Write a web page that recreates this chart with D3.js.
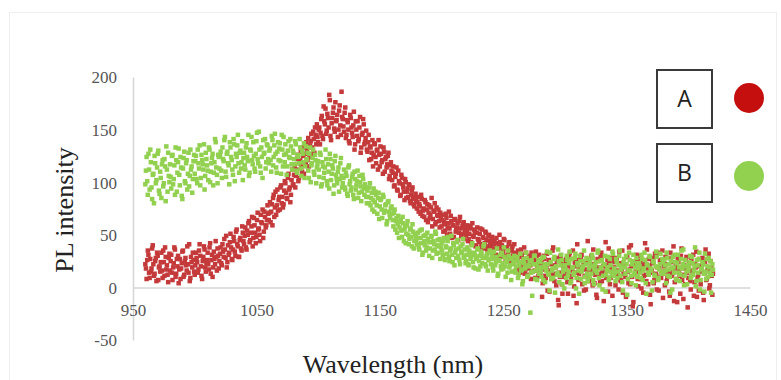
<!DOCTYPE html>
<html>
<head>
<meta charset="utf-8">
<script src="https://cdn.jsdelivr.net/npm/d3@7"></script>
<style>
html,body{margin:0;padding:0;background:#fff;}
svg{display:block;}
</style>
</head>
<body>
<svg id="chart" width="781" height="380"></svg>
<script>
// ---- data ----
// whole-nm readings
const wavelengths = [
960,961,962,963,964,965,966,967,968,969,970,971,972,973,974,975,976,977,978,979,
980,981,982,983,984,985,986,987,988,989,990,991,992,993,994,995,996,997,998,999,
1000,1001,1002,1003,1004,1005,1006,1007,1008,1009,1010,1011,1012,1013,1014,1015,1016,1017,1018,1019,
1020,1021,1022,1023,1024,1025,1026,1027,1028,1029,1030,1031,1032,1033,1034,1035,1036,1037,1038,1039,
1040,1041,1042,1043,1044,1045,1046,1047,1048,1049,1050,1051,1052,1053,1054,1055,1056,1057,1058,1059,
1060,1061,1062,1063,1064,1065,1066,1067,1068,1069,1070,1071,1072,1073,1074,1075,1076,1077,1078,1079,
1080,1081,1082,1083,1084,1085,1086,1087,1088,1089,1090,1091,1092,1093,1094,1095,1096,1097,1098,1099,
1100,1101,1102,1103,1104,1105,1106,1107,1108,1109,1110,1111,1112,1113,1114,1115,1116,1117,1118,1119,
1120,1121,1122,1123,1124,1125,1126,1127,1128,1129,1130,1131,1132,1133,1134,1135,1136,1137,1138,1139,
1140,1141,1142,1143,1144,1145,1146,1147,1148,1149,1150,1151,1152,1153,1154,1155,1156,1157,1158,1159,
1160,1161,1162,1163,1164,1165,1166,1167,1168,1169,1170,1171,1172,1173,1174,1175,1176,1177,1178,1179,
1180,1181,1182,1183,1184,1185,1186,1187,1188,1189,1190,1191,1192,1193,1194,1195,1196,1197,1198,1199,
1200,1201,1202,1203,1204,1205,1206,1207,1208,1209,1210,1211,1212,1213,1214,1215,1216,1217,1218,1219,
1220,1221,1222,1223,1224,1225,1226,1227,1228,1229,1230,1231,1232,1233,1234,1235,1236,1237,1238,1239,
1240,1241,1242,1243,1244,1245,1246,1247,1248,1249,1250,1251,1252,1253,1254,1255,1256,1257,1258,1259,
1260,1261,1262,1263,1264,1265,1266,1267,1268,1269,1270,1271,1272,1273,1274,1275,1276,1277,1278,1279,
1280,1281,1282,1283,1284,1285,1286,1287,1288,1289,1290,1291,1292,1293,1294,1295,1296,1297,1298,1299,
1300,1301,1302,1303,1304,1305,1306,1307,1308,1309,1310,1311,1312,1313,1314,1315,1316,1317,1318,1319,
1320,1321,1322,1323,1324,1325,1326,1327,1328,1329,1330,1331,1332,1333,1334,1335,1336,1337,1338,1339,
1340,1341,1342,1343,1344,1345,1346,1347,1348,1349,1350,1351,1352,1353,1354,1355,1356,1357,1358,1359,
1360,1361,1362,1363,1364,1365,1366,1367,1368,1369,1370,1371,1372,1373,1374,1375,1376,1377,1378,1379,
1380,1381,1382,1383,1384,1385,1386,1387,1388,1389,1390,1391,1392,1393,1394,1395,1396,1397,1398,1399,
1400,1401,1402,1403,1404,1405,1406,1407,1408,1409,1410,1411,1412,1413,1414,1415,1416,1417,1418,1419,
1420];

const seriesA = [
22,8,35,14,27,18,40,11,25,6,30,19,15,33,9,24,38,17,12,28,
16,31,7,23,36,13,20,4,27,18,34,10,25,21,39,14,6,29,19,26,
12,33,24,17,41,20,8,29,36,15,26,22,38,13,31,19,27,44,16,30,
25,38,21,34,46,28,19,40,33,51,27,36,44,30,55,39,29,47,35,52,
41,57,36,50,63,45,58,39,66,52,48,71,56,44,62,74,53,67,59,78,
64,81,72,59,88,76,69,93,83,74,97,86,79,101,90,84,108,95,88,112,
98,115,106,122,101,118,129,110,125,136,117,131,142,124,139,133,148,128,145,155,
138,152,147,163,141,158,170,149,161,183,144,156,166,151,176,159,143,168,154,186,
160,148,171,145,157,139,164,152,143,167,136,150,158,141,162,133,147,155,138,149,
129,145,134,122,140,126,136,118,131,140,115,127,121,133,110,124,117,128,106,119,
102,115,97,108,93,111,99,88,104,95,83,100,91,86,97,80,92,84,77,89,
75,86,79,70,84,73,67,81,74,62,78,69,85,65,72,60,76,68,63,71,
58,69,62,54,66,57,72,51,63,59,48,65,55,61,52,67,49,58,62,54,
50,59,46,56,43,61,48,53,40,57,45,51,38,55,47,42,52,36,49,44,
39,48,35,44,31,42,37,50,29,40,34,45,27,38,33,43,25,36,30,41,
28,19,35,24,14,31,22,38,17,26,12,29,21,33,15,25,9,27,19,31,
14,23,4,30,11,19,-3,26,16,8,35,13,21,2,28,-17,10,24,-6,18,
12,27,5,20,33,9,16,-8,24,14,41,7,19,29,3,22,11,-2,17,26,
8,21,15,36,4,18,-10,25,13,30,6,20,11,43,16,-4,23,9,28,14,
19,2,26,12,34,7,17,-5,22,10,29,15,38,3,20,-18,24,13,31,8,
16,25,-1,21,11,42,6,18,27,-7,14,23,4,32,12,19,-3,26,9,35,
15,2,22,10,28,-8,17,13,39,5,20,-14,24,11,30,7,-11,18,26,14,
9,23,-2,16,31,5,19,-9,12,27,3,21,-5,14,36,8,17,-1,25,11,
13];

const seriesB = [
98,124,88,112,131,95,107,80,118,102,127,92,110,85,121,99,115,134,91,106,
117,94,126,103,88,121,109,132,97,114,84,123,101,118,93,128,106,112,90,120,
108,125,99,118,135,104,121,112,93,128,116,102,131,110,123,97,119,138,107,126,
113,129,104,122,140,110,127,118,98,133,121,107,136,115,124,145,109,130,119,102,
128,112,137,120,106,131,143,117,125,110,139,122,148,115,133,104,127,141,119,135,
118,132,110,140,124,146,114,129,121,137,108,131,143,119,127,115,139,123,134,112,
128,117,136,109,124,141,113,130,119,104,134,122,111,127,100,118,131,107,121,114,
120,105,126,98,115,109,131,101,117,94,122,108,113,97,125,103,110,91,118,106,
99,112,93,106,87,116,101,95,108,84,103,97,111,90,100,82,107,94,98,86,
92,80,99,85,74,94,81,88,70,90,77,84,66,86,73,79,63,82,69,75,
70,58,74,63,52,68,57,64,48,61,55,42,59,50,46,56,39,53,44,49,
41,52,36,47,55,33,44,50,38,46,30,43,49,35,41,53,32,45,39,27,
42,31,47,26,38,44,29,35,49,24,40,33,28,45,37,22,34,41,30,36,
25,38,21,33,29,42,19,31,27,36,17,30,34,23,39,28,20,32,26,35,
22,31,16,28,24,37,13,26,20,33,18,29,10,24,35,19,27,15,22,30,
14,25,9,21,32,17,6,23,19,28,11,20,-24,26,15,30,8,22,18,13,
24,10,19,29,5,16,22,12,33,8,18,27,-5,20,14,25,11,31,3,17,
21,9,26,15,34,6,19,12,28,-1,23,16,30,8,18,25,4,22,13,27,
10,20,31,7,17,24,14,35,2,19,26,11,22,-4,16,29,9,21,13,32,
18,6,24,15,30,11,20,-3,27,13,22,8,33,16,4,25,12,19,28,10,
23,14,31,7,18,26,-6,21,12,29,16,5,24,11,34,19,9,22,15,27,
13,21,4,28,17,10,25,-2,19,31,8,23,14,6,27,18,36,11,20,3,
16,24,9,29,12,20,1,26,14,33,7,18,22,-4,15,27,10,19,25,12,
17];

// half-nm readings
const wavelengthsHalf = [
960.5,961.5,962.5,963.5,964.5,965.5,966.5,967.5,968.5,969.5,970.5,971.5,972.5,973.5,974.5,975.5,976.5,977.5,978.5,979.5,
980.5,981.5,982.5,983.5,984.5,985.5,986.5,987.5,988.5,989.5,990.5,991.5,992.5,993.5,994.5,995.5,996.5,997.5,998.5,999.5,
1000.5,1001.5,1002.5,1003.5,1004.5,1005.5,1006.5,1007.5,1008.5,1009.5,1010.5,1011.5,1012.5,1013.5,1014.5,1015.5,1016.5,1017.5,1018.5,1019.5,
1020.5,1021.5,1022.5,1023.5,1024.5,1025.5,1026.5,1027.5,1028.5,1029.5,1030.5,1031.5,1032.5,1033.5,1034.5,1035.5,1036.5,1037.5,1038.5,1039.5,
1040.5,1041.5,1042.5,1043.5,1044.5,1045.5,1046.5,1047.5,1048.5,1049.5,1050.5,1051.5,1052.5,1053.5,1054.5,1055.5,1056.5,1057.5,1058.5,1059.5,
1060.5,1061.5,1062.5,1063.5,1064.5,1065.5,1066.5,1067.5,1068.5,1069.5,1070.5,1071.5,1072.5,1073.5,1074.5,1075.5,1076.5,1077.5,1078.5,1079.5,
1080.5,1081.5,1082.5,1083.5,1084.5,1085.5,1086.5,1087.5,1088.5,1089.5,1090.5,1091.5,1092.5,1093.5,1094.5,1095.5,1096.5,1097.5,1098.5,1099.5,
1100.5,1101.5,1102.5,1103.5,1104.5,1105.5,1106.5,1107.5,1108.5,1109.5,1110.5,1111.5,1112.5,1113.5,1114.5,1115.5,1116.5,1117.5,1118.5,1119.5,
1120.5,1121.5,1122.5,1123.5,1124.5,1125.5,1126.5,1127.5,1128.5,1129.5,1130.5,1131.5,1132.5,1133.5,1134.5,1135.5,1136.5,1137.5,1138.5,1139.5,
1140.5,1141.5,1142.5,1143.5,1144.5,1145.5,1146.5,1147.5,1148.5,1149.5,1150.5,1151.5,1152.5,1153.5,1154.5,1155.5,1156.5,1157.5,1158.5,1159.5,
1160.5,1161.5,1162.5,1163.5,1164.5,1165.5,1166.5,1167.5,1168.5,1169.5,1170.5,1171.5,1172.5,1173.5,1174.5,1175.5,1176.5,1177.5,1178.5,1179.5,
1180.5,1181.5,1182.5,1183.5,1184.5,1185.5,1186.5,1187.5,1188.5,1189.5,1190.5,1191.5,1192.5,1193.5,1194.5,1195.5,1196.5,1197.5,1198.5,1199.5,
1200.5,1201.5,1202.5,1203.5,1204.5,1205.5,1206.5,1207.5,1208.5,1209.5,1210.5,1211.5,1212.5,1213.5,1214.5,1215.5,1216.5,1217.5,1218.5,1219.5,
1220.5,1221.5,1222.5,1223.5,1224.5,1225.5,1226.5,1227.5,1228.5,1229.5,1230.5,1231.5,1232.5,1233.5,1234.5,1235.5,1236.5,1237.5,1238.5,1239.5,
1240.5,1241.5,1242.5,1243.5,1244.5,1245.5,1246.5,1247.5,1248.5,1249.5,1250.5,1251.5,1252.5,1253.5,1254.5,1255.5,1256.5,1257.5,1258.5,1259.5,
1260.5,1261.5,1262.5,1263.5,1264.5,1265.5,1266.5,1267.5,1268.5,1269.5,1270.5,1271.5,1272.5,1273.5,1274.5,1275.5,1276.5,1277.5,1278.5,1279.5,
1280.5,1281.5,1282.5,1283.5,1284.5,1285.5,1286.5,1287.5,1288.5,1289.5,1290.5,1291.5,1292.5,1293.5,1294.5,1295.5,1296.5,1297.5,1298.5,1299.5,
1300.5,1301.5,1302.5,1303.5,1304.5,1305.5,1306.5,1307.5,1308.5,1309.5,1310.5,1311.5,1312.5,1313.5,1314.5,1315.5,1316.5,1317.5,1318.5,1319.5,
1320.5,1321.5,1322.5,1323.5,1324.5,1325.5,1326.5,1327.5,1328.5,1329.5,1330.5,1331.5,1332.5,1333.5,1334.5,1335.5,1336.5,1337.5,1338.5,1339.5,
1340.5,1341.5,1342.5,1343.5,1344.5,1345.5,1346.5,1347.5,1348.5,1349.5,1350.5,1351.5,1352.5,1353.5,1354.5,1355.5,1356.5,1357.5,1358.5,1359.5,
1360.5,1361.5,1362.5,1363.5,1364.5,1365.5,1366.5,1367.5,1368.5,1369.5,1370.5,1371.5,1372.5,1373.5,1374.5,1375.5,1376.5,1377.5,1378.5,1379.5,
1380.5,1381.5,1382.5,1383.5,1384.5,1385.5,1386.5,1387.5,1388.5,1389.5,1390.5,1391.5,1392.5,1393.5,1394.5,1395.5,1396.5,1397.5,1398.5,1399.5,
1400.5,1401.5,1402.5,1403.5,1404.5,1405.5,1406.5,1407.5,1408.5,1409.5,1410.5,1411.5,1412.5,1413.5,1414.5,1415.5,1416.5,1417.5,1418.5,1419.5];

const seriesAHalf = [
18,26,31,9,15,37,22,13,28,33,7,20,24,16,35,11,29,21,5,32,
25,14,19,38,10,27,30,17,8,23,35,12,28,16,22,41,9,24,33,15,
21,28,14,35,30,11,25,39,19,23,33,17,42,26,10,34,22,29,37,18,
32,23,41,29,36,49,24,31,43,38,26,48,34,53,41,29,45,37,58,44,
49,38,54,61,43,52,67,47,59,42,64,55,50,69,61,47,72,57,64,70,
71,62,79,85,67,91,78,73,86,95,80,76,92,99,85,104,93,81,102,97,
107,95,112,126,104,121,115,133,108,127,138,121,115,135,146,127,141,152,136,143,
150,136,160,144,172,155,146,165,152,178,140,161,171,148,158,164,150,173,145,162,
153,166,142,159,150,137,161,147,154,131,158,144,139,152,128,145,160,136,142,131,
138,121,133,128,115,137,124,130,112,126,134,119,108,129,122,114,125,103,116,111,
109,96,105,114,92,101,87,107,98,91,103,85,94,98,82,88,95,79,86,83,
81,72,77,88,68,75,83,64,79,71,66,76,58,73,80,62,69,74,57,67,
64,53,60,70,50,61,56,68,47,59,64,53,57,45,63,56,51,60,46,57,
54,44,51,58,41,49,55,39,52,46,43,56,41,48,37,53,45,39,50,42,
45,33,41,37,47,28,39,43,32,36,46,30,38,28,41,35,23,39,33,26,
32,25,17,29,36,20,27,13,33,23,18,30,8,24,28,16,34,21,11,25,
20,-9,17,27,9,32,15,-4,22,12,38,6,19,25,-12,14,30,3,21,10,
24,15,-6,29,11,18,35,1,20,-15,26,13,8,31,17,-3,23,10,44,6,
17,30,2,22,12,-7,27,19,5,33,15,-13,21,9,26,37,3,18,-8,24,
11,28,16,-2,23,6,35,13,20,-9,29,4,17,40,10,-14,22,15,27,1,
30,8,19,-5,25,12,36,3,21,-16,16,28,7,13,-2,33,18,10,24,-10,
20,29,6,15,-4,33,11,24,-13,18,8,27,16,-6,37,12,21,3,29,-19,
18,6,27,13,-8,22,34,9,-3,20,15,28,-12,24,7,16,32,2,19,-7];

const seriesBHalf = [
111,101,127,93,119,84,108,125,99,114,130,89,104,117,96,122,82,112,128,100,
105,125,98,116,133,91,119,107,124,87,113,129,99,121,108,96,131,115,103,126,
120,103,131,113,97,126,117,136,106,122,111,133,100,118,127,109,141,114,99,124,
126,111,133,120,143,105,129,116,138,124,112,141,101,127,135,118,128,113,139,123,
116,133,124,145,109,130,121,138,113,127,147,118,131,109,124,140,128,113,136,122,
130,121,144,116,135,127,109,138,132,120,145,115,126,136,107,130,124,141,117,130,
122,139,111,126,118,133,106,127,137,115,121,128,104,133,116,123,110,126,99,117,
112,128,96,119,104,114,122,97,110,127,102,116,89,120,107,99,114,103,123,95,
104,95,109,89,114,98,92,105,88,110,93,101,85,106,96,91,103,88,95,80,
86,95,78,90,83,72,91,78,85,65,83,74,88,71,78,60,81,72,66,77,
64,71,55,66,60,47,62,54,67,44,58,51,63,41,55,48,60,37,51,45,
47,38,54,42,31,49,40,35,52,43,37,48,28,44,36,51,40,33,46,38,
35,44,27,39,32,48,25,37,31,42,21,36,43,30,26,39,33,46,28,23,
31,22,35,27,40,24,33,18,29,37,25,20,32,28,41,22,30,16,27,33,
27,19,34,21,29,11,25,31,17,23,38,20,26,14,30,21,7,28,24,16,
20,29,12,24,16,3,27,18,33,10,21,25,14,-8,22,30,16,7,26,19,
15,28,7,22,18,34,13,-3,24,16,9,29,19,12,36,5,21,26,15,-1,
17,30,11,23,4,27,19,14,32,9,21,-6,25,15,20,35,10,28,6,18,
24,13,28,3,21,16,33,9,25,18,-2,22,30,12,19,7,27,15,34,11,
14,27,9,21,35,17,5,24,19,30,-7,16,26,11,22,31,14,2,23,18,
20,9,27,16,33,4,22,14,30,18,-3,25,12,20,29,7,17,32,13,24,
26,16,33,11,22,-5,18,29,14,24,7,31,19,12,35,22,2,26,15,21,
19,30,11,23,16,38,6,21,27,-2,17,24,13,32,8,20,28,14,-5,22];

const xTicks = [950, 1050, 1150, 1250, 1350, 1450];
const yTicks = [-50, 0, 50, 100, 150, 200];
const legendLabels = ["A", "B"];
const seriesColors = ["#c4393a", "#92d050"];
const legendColors = ["#c50f0f", "#92d050"];

// ---- drawing ----
const svg = d3.select("#chart");

svg.append("rect").attr("x", 9.5).attr("y", 12.5).attr("width", 767).attr("height", 380)
  .attr("fill", "none").attr("stroke", "#efefef").attr("stroke-width", 1);

const x = d3.scaleLinear().domain([950, 1450]).range([133, 750]);
const y = d3.scaleLinear().domain([-50, 200]).range([340, 77]);
const serif = "'Liberation Serif', 'Times New Roman', serif";

const yAxis = d3.axisLeft(y).tickValues(yTicks).tickSize(0).tickPadding(16)
  .tickFormat(d => String(d));
const gy = svg.append("g").attr("transform", `translate(${x(950)},0)`).call(yAxis);
gy.select(".domain").attr("stroke", "#d6d6d6").attr("stroke-width", 1.5);
gy.selectAll("text").attr("font-family", serif)
  .attr("font-size", 17).attr("fill", "#555").attr("dy", "0.35em");

const xAxis = d3.axisBottom(x).tickValues(xTicks).tickSize(0).tickPadding(17)
  .tickFormat(d => String(d));
const gx = svg.append("g").attr("transform", `translate(0,${y(0)})`).call(xAxis);
gx.select(".domain").attr("stroke", "#d6d6d6").attr("stroke-width", 1.5);
gx.selectAll("text").attr("font-family", serif)
  .attr("font-size", 17).attr("fill", "#555");

// points
const sz = 4.5;
const layers = [
  [wavelengths, seriesA, 0], [wavelengthsHalf, seriesAHalf, 0],
  [wavelengths, seriesB, 1], [wavelengthsHalf, seriesBHalf, 1]
];
layers.forEach(([wl, vals, si]) => {
  svg.append("g").selectAll("rect").data(vals).join("rect")
    .attr("x", (d, i) => x(wl[i]) - sz / 2)
    .attr("y", d => y(d) - sz / 2)
    .attr("width", sz).attr("height", sz)
    .attr("fill", seriesColors[si]);
});

// axis titles
svg.append("text").attr("x", 393).attr("y", 373).attr("text-anchor", "middle")
  .attr("font-family", serif)
  .attr("font-size", 26).attr("fill", "#222").text("Wavelength (nm)");
svg.append("text").attr("transform", "translate(73,210) rotate(-90)")
  .attr("text-anchor", "middle")
  .attr("font-family", serif)
  .attr("font-size", 26).attr("fill", "#222").text("PL intensity");

// legend
const leg = svg.append("g");
legendLabels.forEach((lab, i) => {
  const top = 70 + i * 74;
  leg.append("rect").attr("x", 657).attr("y", top).attr("width", 55).attr("height", 58)
    .attr("fill", "#fff").attr("stroke", "#3a3a3a").attr("stroke-width", 2);
  leg.append("text").attr("x", 684.5).attr("y", top + 29).attr("dy", "0.36em")
    .attr("text-anchor", "middle").attr("font-family", "'Open Sans', 'Liberation Sans', sans-serif")
    .attr("font-size", 23).attr("fill", "#222").text(lab);
  leg.append("circle").attr("cx", 749).attr("cy", top + 28 + i * 4).attr("r", 15)
    .attr("fill", legendColors[i]);
});
</script>
</body>
</html>
